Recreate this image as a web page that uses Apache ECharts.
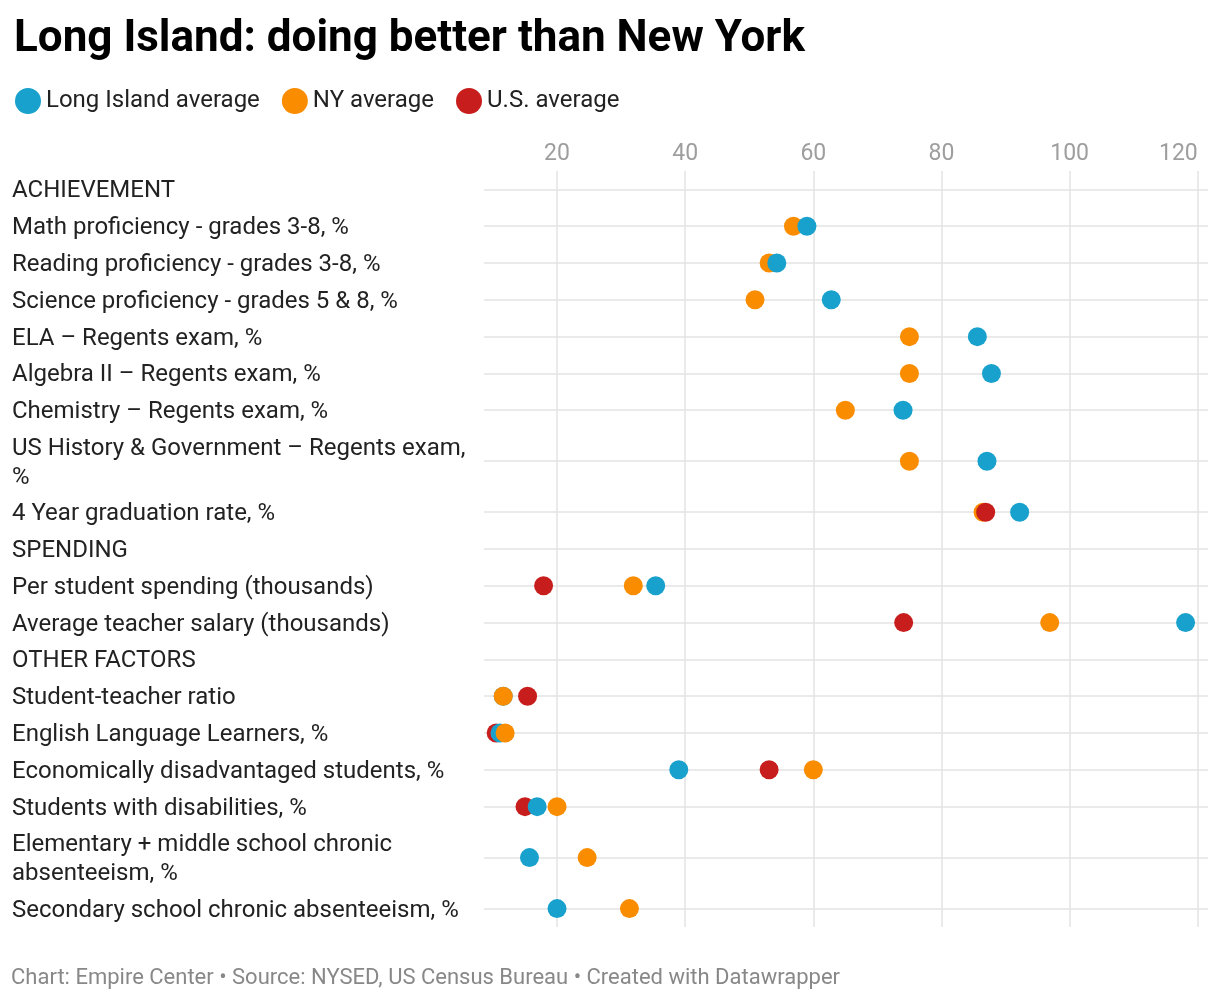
<!DOCTYPE html>
<html>
<head>
<meta charset="utf-8">
<style>
  html, body { margin: 0; padding: 0; background: #fff; }
  #chart { width: 1220px; height: 1000px; }
</style>
<script src="https://cdn.jsdelivr.net/npm/echarts@6/dist/echarts.min.js"></script>
</head>
<body>
<div id="chart"></div>
<script>
// rows, top to bottom (header rows have no values)
var categories = [
  'ACHIEVEMENT',
  'Math proficiency - grades 3-8, %',
  'Reading proficiency - grades 3-8, %',
  'Science proficiency - grades 5 & 8, %',
  'ELA \u2013 Regents exam, %',
  'Algebra II \u2013 Regents exam, %',
  'Chemistry \u2013 Regents exam, %',
  'US History & Government \u2013 Regents exam,\n%',
  '4 Year graduation rate, %',
  'SPENDING',
  'Per student spending (thousands)',
  'Average teacher salary (thousands)',
  'OTHER FACTORS',
  'Student-teacher ratio',
  'English Language Learners, %',
  'Economically disadvantaged students, %',
  'Students with disabilities, %',
  'Elementary + middle school chronic\nabsenteeism, %',
  'Secondary school chronic absenteeism, %'
];

var seriesNames = ['Long Island average', 'NY average', 'U.S. average'];
var liValues = [null, 59.0, 54.3, 62.8, 85.6, 87.8, 74.0, 87.1, 92.2, null, 35.4, 118.1, null, 11.6, 11.1, 39.0, 16.9, 15.7, 20.0];
var nyValues = [null, 56.9, 53.1, 50.9, 75.0, 75.0, 65.0, 75.0, 86.5, null, 31.9, 96.9, null, 11.6, 11.9, 60.0, 20.0, 24.7, 31.3];
var usValues = [null, null, null, null, null, null, null, null, 86.9, null, 17.9, 74.1, null, 15.4, 10.5, 53.1, 15.0, null, null];
var xTicks = [20, 40, 60, 80, 100, 120];

var colors = ['#18a1cd', '#fa8c00', '#c71e1d'];

// row layout: two-line labels get a taller row
var rowHeights = categories.map(function (c) { return c.indexOf('\n') >= 0 ? 1.77 : 1; });
var rowCenters = [];
var acc = 0;
rowHeights.forEach(function (h) { rowCenters.push(acc + h / 2); acc += h; });
var totalRows = acc;

function rowIndexOf(v) {
  var best = 0;
  for (var i = 0; i < rowCenters.length; i++) {
    if (Math.abs(rowCenters[i] - v) < Math.abs(rowCenters[best] - v)) best = i;
  }
  return best;
}

// all dots in one series, sorted so the larger value is drawn on top
var points = [];
[liValues, nyValues, usValues].forEach(function (arr, s) {
  arr.forEach(function (v, i) {
    if (v == null) return;
    points.push({ value: [v, rowCenters[i]], itemStyle: { color: colors[s], opacity: 1 }, s: s, row: i });
  });
});
points.sort(function (a, b) {
  if (a.row !== b.row) return a.row - b.row;
  if (a.value[0] !== b.value[0]) return a.value[0] - b.value[0];
  return a.s - b.s;
});

var chart = echarts.init(document.getElementById('chart'), null, { renderer: 'canvas' });
var font = 'Roboto, "Noto Sans", sans-serif';

var series = seriesNames.map(function (name, s) {
  return { name: name, type: 'scatter', data: [], itemStyle: { color: colors[s], opacity: 1 } };
});
series.push({
  name: 'dots',
  type: 'scatter',
  symbolSize: 19,
  itemStyle: { opacity: 1 },
  data: points.map(function (p) { return { value: p.value, itemStyle: p.itemStyle }; }),
  emphasis: { disabled: true }
});

chart.setOption({
  animation: false,
  textStyle: { fontFamily: font },
  title: {
    text: 'Long Island: doing better than New York',
    left: 9,
    top: 13,
    textStyle: { fontSize: 44, fontWeight: 'bold', color: '#000', fontFamily: font }
  },
  legend: {
    data: seriesNames,
    left: 10,
    top: 83,
    icon: 'circle',
    itemWidth: 26,
    itemHeight: 26,
    itemGap: 22,
    textStyle: { fontSize: 24, color: '#222', fontFamily: font }
  },
  grid: { left: 484, right: 12, top: 171, bottom: 73 },
  xAxis: {
    type: 'value',
    position: 'top',
    min: 8.6,
    max: 121.6,
    axisLine: { show: false },
    axisTick: { show: false, customValues: xTicks },
    axisLabel: {
      customValues: xTicks,
      color: '#9e9e9e',
      fontSize: 23,
      margin: 5,
      alignMaxLabel: 'right',
      fontFamily: font
    },
    splitLine: { show: true, lineStyle: { color: '#e3e3e3', width: 1.5 } }
  },
  yAxis: {
    type: 'value',
    inverse: true,
    min: 0,
    max: totalRows,
    axisLine: { show: false },
    axisTick: { show: false, customValues: rowCenters },
    axisLabel: {
      customValues: rowCenters,
      align: 'left',
      margin: 472,
      color: '#222',
      fontSize: 24,
      lineHeight: 29,
      fontFamily: font,
      formatter: function (v) {
        return categories[rowIndexOf(v)].split('\n').map(function (line) {
          return '{t|' + line + '}';
        }).join('\n');
      },
      rich: {
        t: { fontSize: 24, lineHeight: 29, color: '#222', fontFamily: font, padding: [4, 0, 0, 0] }
      }
    },
    splitLine: { show: true, lineStyle: { color: '#e3e3e3', width: 1.5 } }
  },
  graphic: [{
    type: 'text',
    left: 11,
    top: 967,
    style: {
      text: 'Chart: Empire Center \u2022 Source: NYSED, US Census Bureau \u2022 Created with Datawrapper',
      fill: '#888',
      fontSize: 22,
      fontFamily: font
    }
  }],
  series: series
});
window.addEventListener('resize', function () { chart.resize(); });
</script>
</body>
</html>
